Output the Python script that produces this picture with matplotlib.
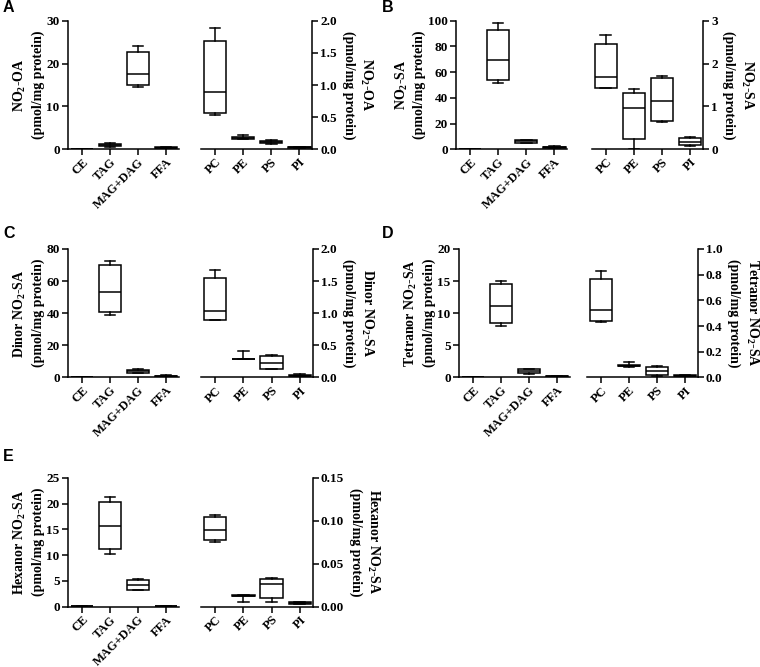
import matplotlib
matplotlib.use("Agg")
import matplotlib.pyplot as plt
from matplotlib.ticker import FormatStrFormatter

plt.rcParams['font.family'] = ['Liberation Serif', 'DejaVu Serif']
plt.rcParams['font.weight'] = 'bold'
plt.rcParams['mathtext.fontset'] = 'custom'
plt.rcParams['mathtext.rm'] = 'Liberation Serif:bold'
plt.rcParams['mathtext.it'] = 'Liberation Serif:bold'
plt.rcParams['mathtext.bf'] = 'Liberation Serif:bold'

# categories
neutral_lipids = ["CE", "TAG", "MAG+DAG", "FFA"]
phospholipids = ["PC", "PE", "PS", "PI"]

# each entry: [min, q1, median, q3, max]
A_neutral = [[0.0, 0.0, 0.0, 0.0, 0.0], [0.5, 0.7, 0.9, 1.2, 1.4],
             [14.5, 15.0, 17.5, 22.7, 24.2], [0.2, 0.3, 0.35, 0.45, 0.5]]
A_phospho = [[0.53, 0.57, 0.896, 1.69, 1.89], [0.16, 0.165, 0.175, 0.185, 0.23],
             [0.09, 0.10, 0.115, 0.135, 0.145], [0.015, 0.02, 0.03, 0.035, 0.04]]

B_neutral = [[0.1, 0.15, 0.2, 0.25, 0.3], [51.6, 53.6, 69.4, 92.7, 97.9],
             [5.0, 5.2, 6.2, 7.3, 7.6], [1.0, 1.3, 1.7, 2.0, 2.2]]
B_phospho = [[1.42, 1.44, 1.68, 2.46, 2.67], [0.0, 0.23, 0.96, 1.31, 1.41],
             [0.63, 0.65, 1.12, 1.66, 1.71], [0.08, 0.09, 0.17, 0.26, 0.28]]

C_neutral = [[0.1, 0.15, 0.2, 0.25, 0.3], [38.9, 40.5, 53.4, 70.0, 72.8],
             [2.8, 3.0, 3.9, 4.8, 5.0], [0.4, 0.6, 0.9, 1.1, 1.3]]
C_phospho = [[0.89, 0.89, 1.03, 1.55, 1.68], [0.29, 0.29, 0.29, 0.29, 0.41],
             [0.125, 0.14, 0.22, 0.33, 0.35], [0.01, 0.02, 0.03, 0.04, 0.05]]

D_neutral = [[0.0, 0.0, 0.0, 0.0, 0.0], [8.0, 8.47, 11.17, 14.5, 15.06],
             [0.6, 0.7, 1.0, 1.3, 1.35], [0.1, 0.15, 0.2, 0.25, 0.3]]
D_phospho = [[0.434, 0.439, 0.525, 0.769, 0.83], [0.085, 0.087, 0.09, 0.095, 0.12],
             [0.013, 0.021, 0.049, 0.078, 0.088], [0.005, 0.008, 0.012, 0.016, 0.02]]

E_neutral = [[0.03, 0.04, 0.05, 0.06, 0.07], [10.3, 11.2, 15.6, 20.3, 21.3],
             [3.3, 3.3, 4.3, 5.2, 5.3], [0.1, 0.12, 0.15, 0.18, 0.2]]
E_phospho = [[0.0756, 0.077, 0.089, 0.104, 0.107], [0.005, 0.0125, 0.013, 0.0132, 0.0135],
             [0.005, 0.0097, 0.026, 0.0325, 0.033], [0.003, 0.0035, 0.004, 0.005, 0.0055]]

A_label = "NO$_2$-OA\n(pmol/mg protein)"
B_label = "NO$_2$-SA\n(pmol/mg protein)"
C_label = "Dinor NO$_2$-SA\n(pmol/mg protein)"
D_label = "Tetranor NO$_2$-SA\n(pmol/mg protein)"
E_label = "Hexanor NO$_2$-SA\n(pmol/mg protein)"

A_yticks_left = [0, 10, 20, 30]
A_yticks_right = [0.0, 0.5, 1.0, 1.5, 2.0]
B_yticks_left = [0, 20, 40, 60, 80, 100]
B_yticks_right = [0, 1, 2, 3]
C_yticks_left = [0, 20, 40, 60, 80]
C_yticks_right = [0.0, 0.5, 1.0, 1.5, 2.0]
D_yticks_left = [0, 5, 10, 15, 20]
D_yticks_right = [0.0, 0.2, 0.4, 0.6, 0.8, 1.0]
E_yticks_left = [0, 5, 10, 15, 20, 25]
E_yticks_right = [0.00, 0.05, 0.10, 0.15]

W, H = 760, 667
fig = plt.figure(figsize=(W / 100, H / 100), dpi=100)


def add_ax(x0, x1, y0, y1):
    return fig.add_axes([x0 / W, 1 - y1 / H, (x1 - x0) / W, (y1 - y0) / H])


LW = 1.1


def draw(ax, stats, cats, yticks, fmt, label, side):
    bstats = [dict(whislo=s[0], q1=s[1], med=s[2], q3=s[3], whishi=s[4], fliers=[])
              for s in stats]
    ax.bxp(bstats, positions=range(len(cats)), widths=0.8, capwidths=0.38,
           showfliers=False, patch_artist=True,
           boxprops=dict(facecolor='white', edgecolor='black', linewidth=LW),
           medianprops=dict(color='black', linewidth=LW),
           whiskerprops=dict(color='black', linewidth=LW),
           capprops=dict(color='black', linewidth=LW))
    ax.set_xlim(-0.5, 3.45)
    ax.set_ylim(yticks[0], yticks[-1])
    ax.set_yticks(yticks)
    ax.yaxis.set_major_formatter(FormatStrFormatter(fmt))
    ax.set_xticks(range(len(cats)))
    ax.set_xticklabels(cats, rotation=45, ha='right', rotation_mode='anchor',
                       fontsize=9, fontweight='bold')
    ax.spines['top'].set_visible(False)
    ax.tick_params(axis='y', direction='out', length=4, width=LW,
                   labelsize=9.5, pad=2)
    ax.tick_params(axis='x', direction='out', length=4, width=LW, pad=1)
    for sp in ax.spines.values():
        sp.set_linewidth(LW)
    if side == 'left':
        ax.spines['right'].set_visible(False)
        ax.set_ylabel(label, fontsize=10, fontweight='bold', labelpad=1,
                      linespacing=1.3)
    else:
        ax.spines['left'].set_visible(False)
        ax.yaxis.tick_right()
        ax.yaxis.set_label_position('right')
        ax.set_ylabel(label, fontsize=10, fontweight='bold', rotation=-90,
                      labelpad=27, linespacing=1.3)
    ax.set_facecolor('none')


panels = [
    ("A", (68, 178.6), (201, 312), (20.7, 149.3), A_neutral, A_phospho,
     A_yticks_left, A_yticks_right, '%d', '%.1f', A_label, (3, 0)),
    ("B", (456, 567), (591.7, 702.7), (20.7, 149.3), B_neutral, B_phospho,
     B_yticks_left, B_yticks_right, '%d', '%d', B_label, (382, 0)),
    ("C", (68, 178.6), (201, 312.5), (249, 377.5), C_neutral, C_phospho,
     C_yticks_left, C_yticks_right, '%d', '%.1f', C_label, (3, 226)),
    ("D", (459, 569.6), (587, 697.5), (249, 377.5), D_neutral, D_phospho,
     D_yticks_left, D_yticks_right, '%d', '%.1f', D_label, (382, 226)),
    ("E", (68, 178.6), (201, 312.5), (477.7, 606.7), E_neutral, E_phospho,
     E_yticks_left, E_yticks_right, '%d', '%.2f', E_label, (3, 449)),
]

for (letter, lx, rx, yy, neu, pho, ytl, ytr, fl, fr, lab, lpos) in panels:
    axl = add_ax(lx[0], lx[1], yy[0], yy[1])
    draw(axl, neu, neutral_lipids, ytl, fl, lab, 'left')
    axr = add_ax(rx[0], rx[1], yy[0], yy[1])
    draw(axr, pho, phospholipids, ytr, fr, lab, 'right')
    fig.text(lpos[0] / W, 1 - lpos[1] / H, letter, fontsize=11.5,
             fontweight='bold', family=['Liberation Sans', 'DejaVu Sans'],
             ha='left', va='top')

fig.savefig("out.png", dpi=100)
